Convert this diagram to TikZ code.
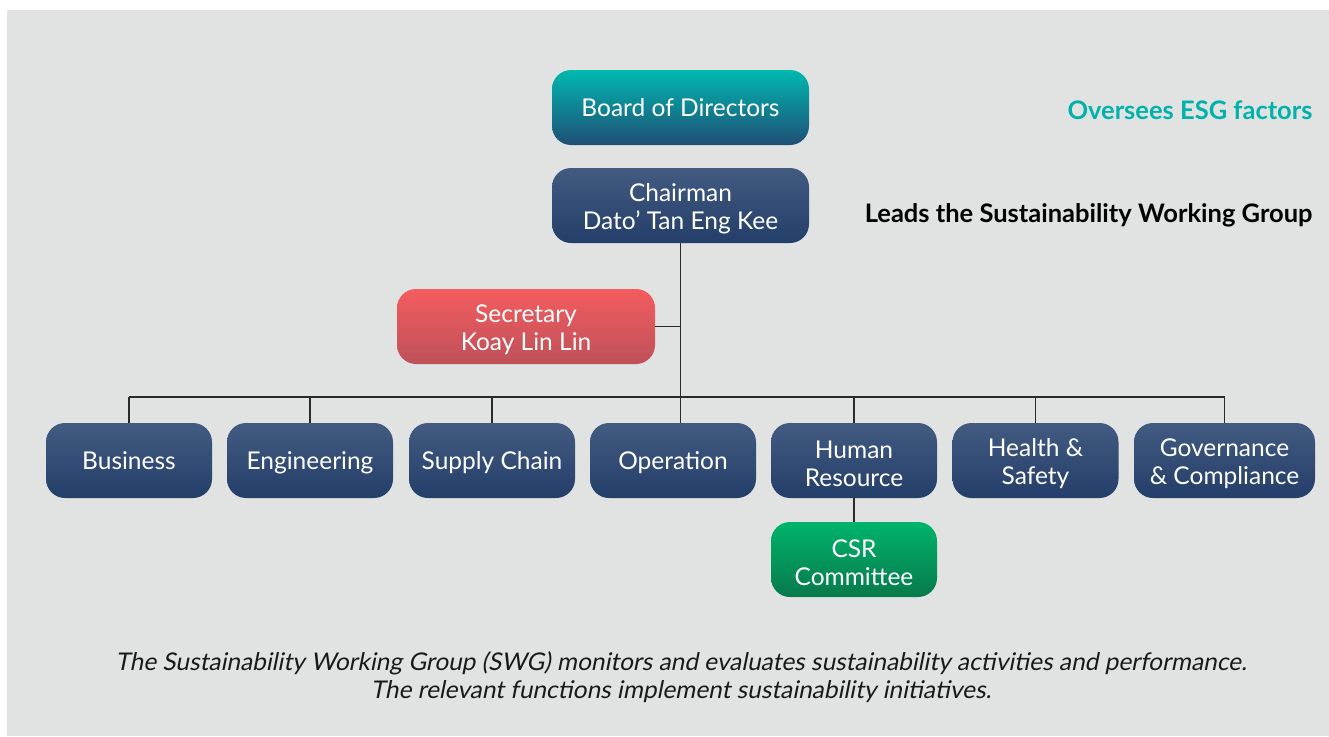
\documentclass[tikz,border=0pt]{standalone}
\usepackage{fontspec}
\setmainfont{Lato}
\newfontfamily\slantfont[FakeSlant=0.2]{Lato}
% invisible strut that pushes a two-line label down inside its box
\newcommand\liftstrut{\rule{0pt}{24pt}}
\begin{document}
\begin{tikzpicture}[x=1pt,y=-1pt,
  orgbox/.style={rounded corners=19pt, minimum height=75pt, inner sep=0pt,
    align=center, text=white, font=\fontsize{24.5}{28}\selectfont},
  oneline/.style={text height=17pt, text depth=0pt},
  navybox/.style={orgbox, minimum width=166pt, top color=navyTop, bottom color=navyBot},
  boardbox/.style={orgbox, oneline, minimum width=257pt, top color=tealTop, middle color=tealMid, bottom color=tealBot},
  secbox/.style={orgbox, minimum width=258pt, top color=redTop, bottom color=redBot},
  csrbox/.style={orgbox, minimum width=166pt, top color=greenTop, bottom color=greenBot},
  link/.style={draw=lineGray, line width=1.3pt},
  sidenote/.style={anchor=east, font=\fontsize{25.5}{28}\selectfont\bfseries},
  caption/.style={align=center, font=\fontsize{24.4}{28}\selectfont\slantfont, text=black!90}
]
\definecolor{bgGray}{HTML}{E1E3E2}
\definecolor{navyTop}{HTML}{435B81}
\definecolor{navyBot}{HTML}{233E69}
\definecolor{tealTop}{HTML}{00B9AF}
\definecolor{tealMid}{HTML}{00A0A6}
\definecolor{tealBot}{HTML}{1F4E76}
\definecolor{redTop}{HTML}{F45C5E}
\definecolor{redBot}{HTML}{BE515A}
\definecolor{greenTop}{HTML}{00B46B}
\definecolor{greenBot}{HTML}{08794C}
\definecolor{lineGray}{HTML}{2A2A2A}
\definecolor{esgTeal}{HTML}{00B2AA}

% page and panel
\useasboundingbox (0,0) rectangle (1329,736);
\fill[white] (0,0) rectangle (1329,736);
\fill[bgGray] (7,10) rectangle (1329,736);

% top of the chart
\node[boardbox] (board) at (680.5,107.5) {Board of Directors};
\node[navybox, minimum width=257pt] (chair) at (680.5,205.5) {\liftstrut Chairman\\Dato’ Tan Eng Kee};
\node[secbox] (sec) at (526,326.5) {\liftstrut Secretary\\Koay Lin Lin};

% functions
\node[navybox, oneline] (biz) at (129,460.5) {Business};
\node[navybox, oneline] (eng) at (310,460.5) {Engineering};
\node[navybox, oneline] (sup) at (492,460.5) {Supply Chain};
\node[navybox, oneline] (ops) at (673,460.5) {Operation};
\node[navybox] (hr)  at (854,460.5) {\liftstrut Human\\Resource};
\node[navybox] (hs)  at (1035.5,460.5) {\liftstrut Health \&\\Safety};
\node[navybox, minimum width=181pt] (gov) at (1224.5,460.5) {\liftstrut Governance\\\& Compliance};
\node[csrbox] (csr) at (854,559.5) {\liftstrut CSR\\Committee};

% side notes
\node[sidenote, text=esgTeal] (esg) at (1316,110) {Oversees ESG factors};
\node[sidenote, text=black] (swg) at (1316,215) {Leads the Sustainability Working Group};

% caption
\node[caption] (note) at (681,677) {The Sustainability Working Group (SWG) monitors and evaluates sustainability activities and performance.\\The relevant functions implement sustainability initiatives.};

% connectors
\coordinate (bus) at (680.5,397);
\draw[link] (chair.south) -- (chair.south |- ops.north);
\draw[link] (sec.east) -- (sec.east -| chair.south);
\draw[link] (biz.north |- bus) -- (gov.north |- bus);
\foreach \n in {biz,eng,sup,hr,hs,gov}
  \draw[link] (\n.north) -- (\n.north |- bus);
\draw[link] (hr.south) -- (csr.north);
\end{tikzpicture}
\end{document}
